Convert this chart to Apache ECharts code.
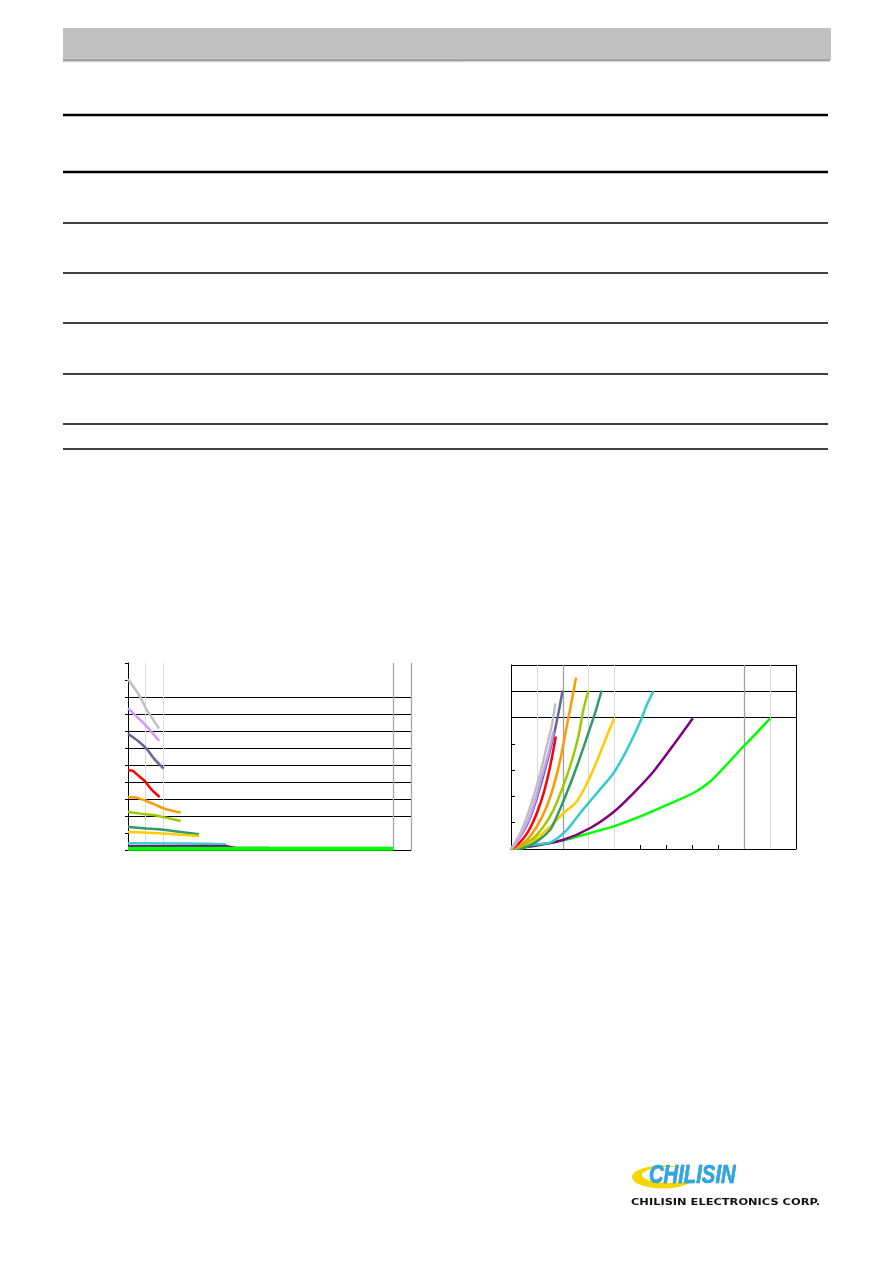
<!DOCTYPE html>
<html><head><meta charset="utf-8">
<script src="https://cdn.jsdelivr.net/npm/echarts@6/dist/echarts.min.js"></script>
<style>html,body{margin:0;padding:0;background:#fff;}#c{width:893px;height:1263px;}</style>
</head><body><div id="c"></div>
<script>
// ---- Data: left chart (value vs current) ----
const leftGray   = [[0,10.04],[0.66,9.06],[1.04,8.27],[1.41,7.69],[1.75,7.14]];
const leftLilac  = [[0,8.33],[0.47,7.88],[1.04,7.29],[1.75,6.43]];
const leftSlate  = [[0,6.84],[0.57,6.41],[1.04,5.96],[1.51,5.33],[2.02,4.78]];
const leftRed    = [[0,4.71],[0.28,4.65],[0.57,4.39],[0.94,4.06],[1.32,3.57],[1.79,3.12]];
const leftOrange = [[0,3.12],[0.47,3.08],[1.04,2.88],[1.6,2.63],[2.17,2.39],[2.98,2.2]];
const leftLime   = [[0,2.25],[0.66,2.14],[1.41,2.06],[2.17,1.9],[2.98,1.71]];
const leftSea    = [[0,1.35],[1.04,1.27],[1.79,1.22],[2.54,1.12],[4.01,0.92]];
const leftGold   = [[0,1.06],[1.04,1.02],[2.17,0.96],[4.01,0.82]];
const leftCyan   = [[0,0.39],[4.43,0.37],[5.56,0.33]];
const leftPurple = [[0,0.22],[5.56,0.22],[6.12,0.12],[8.0,0.12]];
const leftGreen  = [[0,0.08],[14.98,0.08]];

// ---- Data: right chart (rise vs current) ----
const rightGray   = [[0,0],[0.1,1.6],[0.36,6.1],[0.62,12.4],[0.87,20],[1.13,28.9],[1.38,39],[1.58,47.2],[1.71,55.4]];
const rightLilac  = [[0,0],[0.17,1.6],[0.42,6.1],[0.68,11.1],[0.94,18.7],[1.19,27.6],[1.45,36.5],[1.64,44.7]];
const rightSlate  = [[0,0],[0.1,1],[0.36,4.8],[0.62,9.2],[0.87,15.6],[1.13,23.8],[1.38,32.7],[1.64,42.8],[1.83,51.6],[1.99,60.3]];
const rightRed    = [[0,0],[0.17,1],[0.49,4.2],[0.74,8],[1.0,13.7],[1.26,21.3],[1.51,31.4],[1.73,42.8]];
const rightOrange = [[0,0],[0.23,0.8],[0.62,3.5],[1.0,8.6],[1.38,16.2],[1.64,23.8],[1.9,33.9],[2.15,46.6],[2.35,56.7],[2.51,65.2]];
const rightLime   = [[0,0],[0.36,0.8],[0.87,4.2],[1.26,8.6],[1.64,14.9],[1.96,22.5],[2.28,31.4],[2.6,42.8],[2.79,52.9],[2.99,60.3]];
const rightSea    = [[0,0],[0.49,0.4],[1.0,2.9],[1.51,7.3],[1.77,12.4],[2.15,21.3],[2.54,31.4],[2.92,42.2],[3.24,51.6],[3.5,60.3]];
const rightGold   = [[0,0],[0.75,2.3],[1.52,8.6],[2.03,13.7],[2.54,18.1],[3.06,27.6],[3.44,36.5],[3.77,44.7],[3.98,49.7]];
const rightCyan   = [[0,0],[0.87,1.6],[1.52,2.5],[2.16,7.3],[2.67,13.7],[3.32,21.3],[3.96,28.9],[4.47,37.7],[4.99,48.5],[5.24,54.8],[5.5,60]];
const rightPurple = [[0,0],[1.13,1.6],[2.03,3.5],[3.06,8],[3.96,14.1],[4.73,21.3],[5.5,29.5],[6.27,39.6],[7.02,49.7]];
const rightGreen  = [[0,0],[1.13,1.6],[2.03,3.3],[3.06,6.1],[3.96,8.6],[4.99,12.4],[6.02,16.8],[7.04,21.3],[7.69,25.7],[8.2,30.8],[8.97,39],[9.49,44.3],[10.0,49.7]];

const seriesColors = ['#c0c0c0','#cc99ff','#666699','#ff0000','#ff9900','#99cc00','#339966','#ffcc00','#33cccc','#800080','#00ff00'];
const leftData  = [leftGray,leftLilac,leftSlate,leftRed,leftOrange,leftLime,leftSea,leftGold,leftCyan,leftPurple,leftGreen];
const rightData = [rightGray,rightLilac,rightSlate,rightRed,rightOrange,rightLime,rightSea,rightGold,rightCyan,rightPurple,rightGreen];

// gridline values
const leftHLines = [2,3,4,5,6,7,8,9];
const leftVLight = [1,2];
const leftVDark  = [15,16];
const rightHLines = [50,60,70];
const rightVLight = [1,3,4,10];
const rightVDark  = [2,9];
const rightVBorder = [11];

// ---- Page decoration ----
const tableRows = [[115,2.5],[172,2.5],[223,1.3],[273,1.3],[323,1.3],[374,1.3],[424,1.3],[449,1.3]];

const graphics = [
  {type:'rect', shape:{x:63,y:28,width:768,height:32}, style:{fill:'#c0c0c0'}},
  {type:'rect', shape:{x:63,y:59.5,width:767,height:2}, style:{fill:'#969696'}},
  {type:'rect', shape:{x:63,y:61.5,width:400,height:1}, style:{fill:'#e0e0e0'}},
  {type:'rect', shape:{x:463,y:61.5,width:367,height:1}, style:{fill:'#f2f2f2'}}
];
tableRows.forEach(r => graphics.push({type:'line', shape:{x1:63,y1:r[0],x2:828,y2:r[0]}, style:{stroke:'#000',lineWidth:r[1]}}));
// logo
graphics.push({type:'ellipse', shape:{cx:663,cy:1177,rx:31,ry:11.5}, style:{fill:'#f7d600'}});
graphics.push({type:'ellipse', shape:{cx:670,cy:1175,rx:28,ry:8}, style:{fill:'#ffffff'}});
graphics.push({type:'text', x:649, y:1164, scaleX:0.81, style:{text:'CHILISIN', font:'italic bold 25px "Liberation Sans", Arial', fill:'#2aa8e4', stroke:'#1d6fb0', lineWidth:0.6}});
graphics.push({type:'text', x:631, y:1198, scaleX:1.2, style:{text:'CHILISIN ELECTRONICS CORP.', font:'bold 9.5px "DejaVu Sans", Arial', fill:'#111'}});

function mk(vals, axis, color, width){
  return vals.map(v => ({[axis]: v, lineStyle:{color:color, width:width, type:'solid'}}));
}

const series = [];
leftData.forEach((d,i) => {
  series.push({type:'line', xAxisIndex:0, yAxisIndex:0, data:d, showSymbol:false, smooth:0.25,
    lineStyle:{color:seriesColors[i], width: i===10?4:2.5}, z: 3 + i, silent:true});
});
series[0].markLine = {silent:true, symbol:['none','none'], label:{show:false}, animation:false, z:1,
  data: [].concat(mk(leftHLines,'yAxis','#000',1), mk(leftVLight,'xAxis','#d9d9d9',1), mk(leftVDark,'xAxis','#a6a6a6',1.3))};
rightData.forEach((d,i) => {
  series.push({type:'line', xAxisIndex:1, yAxisIndex:1, data:d, showSymbol:false, smooth:0.25,
    lineStyle:{color:seriesColors[i], width:2.5}, z: 14 - i, silent:true});
});
series[11].markLine = {silent:true, symbol:['none','none'], label:{show:false}, animation:false, z:1,
  data: [].concat(mk(rightHLines,'yAxis','#000',1), mk(rightVLight,'xAxis','#d9d9d9',1), mk(rightVDark,'xAxis','#a0a0a0',1.3), mk(rightVBorder,'xAxis','#000',1))};

const chart = echarts.init(document.getElementById('c'), null, {renderer:'canvas'});
chart.setOption({
  animation:false,
  backgroundColor:'#ffffff',
  graphic: graphics,
  grid:[
    {left:128, top:663, width:283, height:187},
    {left:511, top:665, width:285, height:184}
  ],
  xAxis:[
    {type:'value', gridIndex:0, min:0, max:16, interval:1, axisLine:{lineStyle:{color:'#000',width:1}}, axisTick:{show:false}, axisLabel:{show:false}, splitLine:{show:false}},
    {type:'value', gridIndex:1, min:0, max:11, interval:1, axisLine:{lineStyle:{color:'#000',width:1}}, axisTick:{show:true, inside:true, length:4, lineStyle:{color:'#000'}}, axisLabel:{show:false}, splitLine:{show:false}}
  ],
  yAxis:[
    {type:'value', gridIndex:0, min:0, max:11, interval:1, axisLine:{show:true, lineStyle:{color:'#000',width:1}}, axisTick:{show:true, inside:false, length:3, lineStyle:{color:'#000'}}, axisLabel:{show:false}, splitLine:{show:false}},
    {type:'value', gridIndex:1, min:0, max:70, interval:10, axisLine:{show:true, lineStyle:{color:'#000',width:1}}, axisTick:{show:true, inside:true, length:4, lineStyle:{color:'#000'}}, axisLabel:{show:false}, splitLine:{show:false}}
  ],
  series: series
});
</script></body></html>
